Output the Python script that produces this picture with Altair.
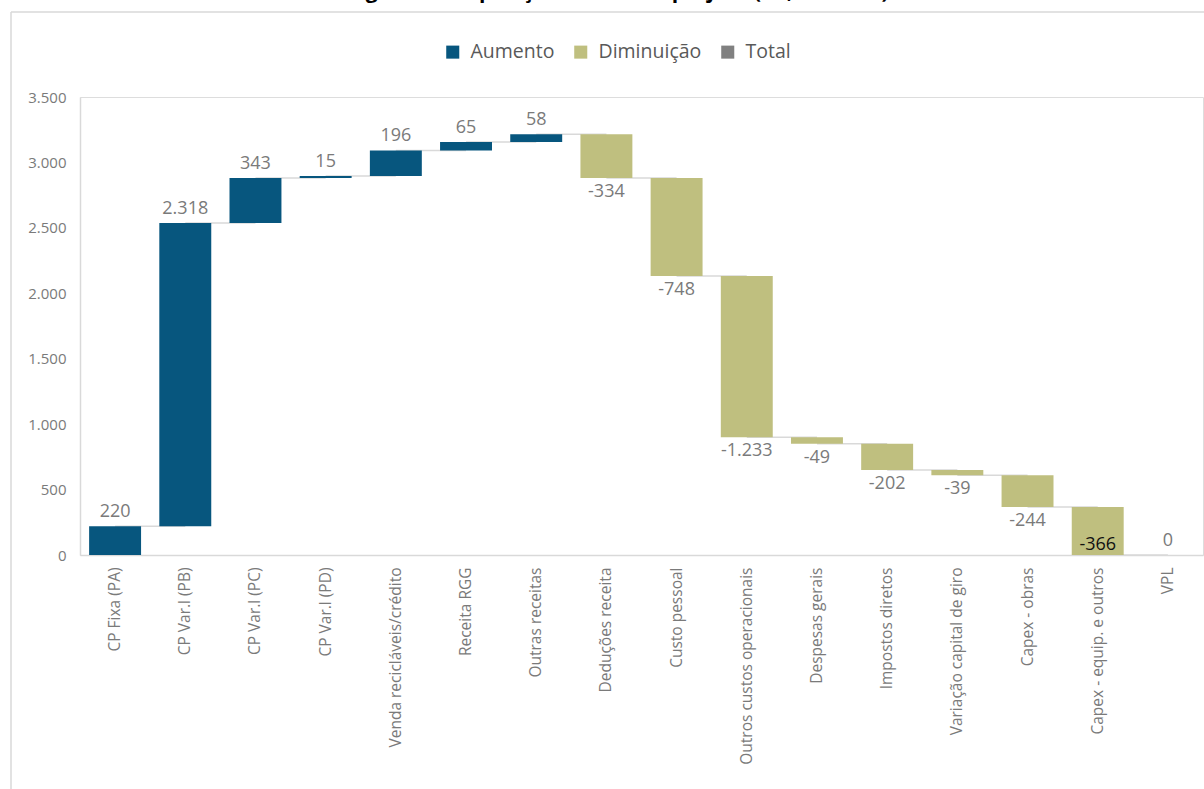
import altair as alt
import pandas as pd

# ---- data ----
categories = [
    "CP Fixa (PA)", "CP Var.l (PB)", "CP Var.l (PC)", "CP Var.l (PD)",
    "Venda recicláveis/crédito", "Receita RGG", "Outras receitas",
    "Deduções receita", "Custo pessoal", "Outros custos operacionais",
    "Despesas gerais", "Impostos diretos", "Variação capital de giro",
    "Capex - obras", "Capex - equip. e outros", "VPL",
]
values = [220, 2318, 343, 15, 196, 65, 58, -334, -748, -1233, -49, -202, -39, -244, -366, 0]
kinds = ["Aumento"] * 7 + ["Diminuição"] * 8 + ["Total"]
legend_names = ["Aumento", "Diminuição", "Total"]
legend_colors = ["#07567E", "#BFBF7F", "#808080"]
y_ticks = [0, 500, 1000, 1500, 2000, 2500, 3000, 3500]
title_text = "Imagem – Composição do VPL do projeto (R$, milhões)"

# ---- waterfall table ----
starts, ends = [], []
cum = 0
for v, k in zip(values, kinds):
    if k == "Total":
        starts.append(0)
        ends.append(cum)
    else:
        starts.append(cum)
        cum += v
        ends.append(cum)
nexts = categories[1:] + [None]
df = pd.DataFrame({"cat": categories, "value": values, "kind": kinds,
                   "start": starts, "end": ends, "next": nexts})
df["inside"] = [(k == "Diminuição" and e == 0) for k, e in zip(kinds, ends)]

FONT = "Open Sans"
GRAY = "#7a7a7a"

xenc = alt.X("cat:N", sort=categories,
             scale=alt.Scale(paddingInner=0.26, paddingOuter=0.13),
             axis=alt.Axis(title=None, labelAngle=270, labelFontSize=15.5,
                           labelColor=GRAY, labelFont=FONT, labelPadding=12,
                           ticks=False, domainColor="#d9d9d9", domainWidth=1.5,
                           labelLimit=300))
yscale = alt.Scale(domain=[0, 3500], nice=False)
yenc = alt.Y("start:Q", scale=yscale,
             axis=alt.Axis(title=None, values=y_ticks, format=",.0f",
                           labelFontSize=15, labelColor=GRAY, labelFont=FONT,
                           labelPadding=14, ticks=False, grid=False,
                           domainColor="#d9d9d9", domainWidth=1.5))

base = alt.Chart(df)

connectors = base.transform_filter("datum.next != null").mark_rule(
    color="#d9d9d9", strokeWidth=1.5
).encode(x=alt.X("cat:N", sort=categories), x2="next:N", y=alt.Y("end:Q", scale=yscale))

bars = base.mark_bar().encode(
    x=xenc,
    y=yenc,
    y2="end:Q",
    color=alt.Color("kind:N", scale=alt.Scale(domain=legend_names, range=legend_colors),
                    legend=alt.Legend(title=None, orient="none", direction="horizontal",
                                      legendX=363, legendY=-55, symbolType="square",
                                      symbolSize=170, symbolStrokeWidth=0,
                                      labelFontSize=19.5, labelColor="#595959",
                                      labelFont=FONT, columnPadding=16, labelOffset=8)),
)

lab_pos = base.transform_filter("datum.kind != 'Diminuição'").mark_text(
    baseline="bottom", dy=-5, fontSize=18, color=GRAY, font=FONT
).encode(x=alt.X("cat:N", sort=categories), y=alt.Y("end:Q", scale=yscale),
         text=alt.Text("value:Q", format=",.0f"))

lab_neg = base.transform_filter("datum.kind == 'Diminuição' && !datum.inside").mark_text(
    baseline="top", dy=5, fontSize=18, color=GRAY, font=FONT
).encode(x=alt.X("cat:N", sort=categories), y=alt.Y("end:Q", scale=yscale),
         text=alt.Text("value:Q", format=",.0f"))

lab_in = base.transform_filter("datum.inside").mark_text(
    baseline="bottom", dy=-1, fontSize=18, color="#111111", font=FONT
).encode(x=alt.X("cat:N", sort=categories), y=alt.Y("end:Q", scale=yscale),
         text=alt.Text("value:Q", format=",.0f"))

frame_df = pd.DataFrame({"a": [0]})
frame_top = alt.Chart(frame_df).mark_rule(color="#d9d9d9", strokeWidth=1.5).encode(
    x=alt.value(-69), x2=alt.value(1130), y=alt.value(-85))
frame_left = alt.Chart(frame_df).mark_rule(color="#d9d9d9", strokeWidth=1.5).encode(
    x=alt.value(-69), y=alt.value(-85), y2=alt.value(700))

title = alt.Chart(pd.DataFrame({"t": [title_text]})).mark_text(
    baseline="alphabetic", align="center", fontSize=21, fontWeight="bold",
    color="#000000", font=FONT
).encode(text="t:N", x=alt.value(527), y=alt.value(-99))

chart = alt.layer(frame_top, frame_left, title, connectors, bars, lab_pos, lab_neg, lab_in).properties(
    width=1123, height=458,
    autosize=alt.AutoSizeParams(type="none"),
    padding={"left": 80, "top": 97, "right": 1, "bottom": 234},
).configure_view(stroke=None).configure(background="white")

chart.save("out.html", embed_options={
    "renderer": "svg", "actions": False,
    "formatLocale": {"decimal": ",", "thousands": ".", "grouping": [3],
                     "currency": ["R$", ""], "minus": "-"},
})
